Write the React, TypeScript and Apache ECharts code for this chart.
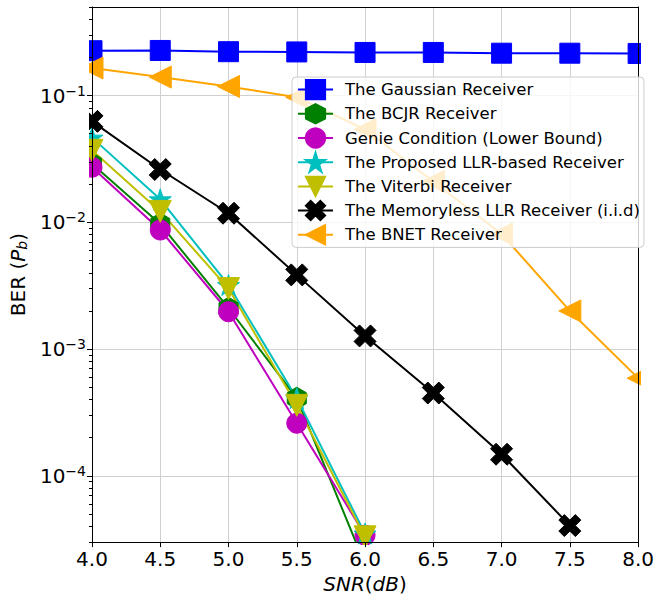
import React, { useEffect, useRef } from 'react';
import * as echarts from 'echarts';

// ---------- data ----------
const snr = [4.0, 4.5, 5.0, 5.5, 6.0, 6.5, 7.0, 7.5, 8.0];
const gaussian = [0.226, 0.227, 0.222, 0.221, 0.219, 0.219, 0.216, 0.216, 0.215];
const bcjr = [0.029, 0.0097, 0.0021, 0.00041, 0.00002];
const genie = [0.0272, 0.0087, 0.00197, 0.00026, 0.000034];
const proposed = [0.0466, 0.0152, 0.0032, 0.00041, 0.000035];
const viterbi = [0.037, 0.0122, 0.003, 0.00036, 0.000033];
const memoryless = [0.0626, 0.0261, 0.0118, 0.00385, 0.00127, 0.00045, 0.000148, 0.0000405];
const bnet = [0.165, 0.14, 0.118, 0.097, 0.054, 0.021, 0.0081, 0.002, 0.00059];

const seriesNames = [
  'The Gaussian Receiver',
  'The BCJR Receiver',
  'Genie Condition (Lower Bound)',
  'The Proposed LLR-based Receiver',
  'The Viterbi Receiver',
  'The Memoryless LLR Receiver (i.i.d)',
  'The BNET Receiver',
];

const xTicks = [4.0, 4.5, 5.0, 5.5, 6.0, 6.5, 7.0, 7.5, 8.0];
const yMajorTicks = [1e-4, 1e-3, 1e-2, 1e-1];
const yMin = 3e-5;
const yMax = 0.5;

// ---------- layout / style ----------
const W = 657;
const H = 599;
const GRID = { left: 89, right: 16, top: 7, bottom: 54 };
const FONT = 'DejaVu Sans';

const yMinorTicks: number[] = [];
for (let e = -5; e <= 0; e++) {
  for (let k = 2; k <= 9; k++) {
    const v = k * Math.pow(10, e);
    if (v >= yMin && v <= yMax) yMinorTicks.push(v);
  }
}

function starPath(): string {
  const pts: string[] = [];
  for (let i = 0; i < 10; i++) {
    const r = i % 2 === 0 ? 1 : 0.381966;
    const a = -Math.PI / 2 + (i * Math.PI) / 5;
    pts.push(`${(r * Math.cos(a)).toFixed(4)},${(r * Math.sin(a)).toFixed(4)}`);
  }
  return 'path://M' + pts.join(' L') + ' Z';
}

const SYM_HEX = 'path://M0,-1 L0.866,-0.5 L0.866,0.5 L0,1 L-0.866,0.5 L-0.866,-0.5 Z';
const SYM_X =
  'path://M-1,-2 L0,-1 L1,-2 L2,-1 L1,0 L2,1 L1,2 L0,1 L-1,2 L-2,1 L-1,0 L-2,-1 Z';
const SYM_TDOWN = 'path://M-1,-1 L1,-1 L0,1 Z';
const SYM_TLEFT = 'path://M-1,0 L1,-1 L1,1 Z';
const SYM_STAR = starPath();

const seriesStyles = [
  { color: '#0000ff', symbol: 'rect', size: 20 },
  { color: '#008000', symbol: SYM_HEX, size: 22 },
  { color: '#bf00bf', symbol: 'circle', size: 20 },
  { color: '#00bfbf', symbol: SYM_STAR, size: 22 },
  { color: '#bfbf00', symbol: SYM_TDOWN, size: 22 },
  { color: '#000000', symbol: SYM_X, size: 22 },
  { color: '#ffa500', symbol: SYM_TLEFT, size: 22 },
];

const seriesValues = [gaussian, bcjr, genie, proposed, viterbi, memoryless, bnet];

export default function App() {
  const ref = useRef<HTMLDivElement>(null);
  useEffect(() => {
    if (!ref.current) return;
    const chart = echarts.init(ref.current, null, { renderer: 'svg' });

    const series = seriesValues.map((vals, si) => {
      const st = seriesStyles[si];
      return {
        type: 'line',
        name: seriesNames[si],
        xAxisIndex: 0,
        yAxisIndex: 0,
        data: vals.map((v, i) => [snr[i], v]),
        symbol: st.symbol,
        symbolSize: st.size,
        symbolKeepAspect: true,
        showSymbol: true,
        showAllSymbol: true,
        clip: true,
        z: 2,
        lineStyle: { color: st.color, width: 2 },
        itemStyle: { color: st.color, borderColor: st.color, borderWidth: 1, opacity: 1 },
        emphasis: { disabled: true },
      };
    });

    const supRich = {
      b: { fontSize: 20, fontFamily: FONT, color: '#000' },
      s: { fontSize: 14, fontFamily: FONT, color: '#000', padding: [0, 0, 10, 0] },
    };

    const option: any = {
      animation: false,
      backgroundColor: '#ffffff',
      textStyle: { fontFamily: FONT },
      grid: { ...GRID, containLabel: false },
      legend: {
        orient: 'vertical',
        left: 292,
        top: 77,
        z: 6,
        data: seriesNames,
        itemWidth: 35,
        itemHeight: 24,
        itemGap: 3,
        padding: [2, 4, 2, 5],
        backgroundColor: 'rgba(255,255,255,0.8)',
        borderColor: '#cccccc',
        borderWidth: 1,
        borderRadius: 4,
        selectedMode: false,
        textStyle: { fontFamily: FONT, fontSize: 16.5, color: '#000', padding: [0, 0, 0, 7] },
      },
      graphic: {
        elements: [
          { type: 'rect', silent: true, z: 3, shape: { x: 0, y: 0, width: GRID.left, height: H }, style: { fill: '#fff' } },
          { type: 'rect', silent: true, z: 3, shape: { x: W - GRID.right, y: 0, width: GRID.right, height: H }, style: { fill: '#fff' } },
          { type: 'rect', silent: true, z: 3, shape: { x: 0, y: 0, width: W, height: GRID.top }, style: { fill: '#fff' } },
          { type: 'rect', silent: true, z: 3, shape: { x: 0, y: H - GRID.bottom, width: W, height: GRID.bottom }, style: { fill: '#fff' } },
        ],
      },
      xAxis: [
        {
          type: 'value', min: 4, max: 8, interval: 0.5, z: 0,
          axisLine: { show: false, onZero: false }, axisTick: { show: false }, axisLabel: { show: false },
          splitLine: { show: true, lineStyle: { color: '#d0d0d0', width: 1 } },
        },
        {
          type: 'value', min: 4, max: 8, interval: 0.5, position: 'bottom', z: 4,
          axisLine: { show: true, onZero: false, lineStyle: { color: '#000', width: 1 } },
          axisTick: { show: true, length: 5, inside: false, lineStyle: { color: '#000' } },
          axisLabel: {
            show: true, margin: 7, fontSize: 20, color: '#000', fontFamily: FONT,
            formatter: (v: number) => v.toFixed(1),
          },
          splitLine: { show: false },
          name: '{i|SNR}{r|(}{i|dB}{r|)}',
          nameLocation: 'middle',
          nameGap: 28,
          nameTextStyle: {
            fontSize: 20, color: '#000', fontFamily: FONT, verticalAlign: 'top',
            rich: {
              i: { fontSize: 20, fontStyle: 'italic', fontFamily: FONT, color: '#000' },
              r: { fontSize: 20, fontFamily: FONT, color: '#000' },
            },
          },
        },
        {
          type: 'value', min: 4, max: 8, position: 'top', z: 4,
          axisLine: { show: true, onZero: false, lineStyle: { color: '#000', width: 1 } },
          axisTick: { show: false }, axisLabel: { show: false }, splitLine: { show: false },
        },
      ],
      yAxis: [
        {
          type: 'log', logBase: 10, min: yMin, max: yMax, z: 0,
          axisLine: { show: false, onZero: false },
          axisTick: { show: false, customValues: yMajorTicks },
          axisLabel: { show: false },
          splitLine: { show: true, lineStyle: { color: '#d0d0d0', width: 1 } },
        },
        {
          type: 'log', logBase: 10, min: yMin, max: yMax, position: 'left', z: 4,
          axisLine: { show: true, onZero: false, lineStyle: { color: '#000', width: 1 } },
          axisTick: { show: true, length: 5, customValues: yMajorTicks, lineStyle: { color: '#000' } },
          axisLabel: {
            show: true, margin: 6, customValues: yMajorTicks,
            formatter: (v: number) => {
              const n = Math.round(Math.log10(v));
              return `{b|10}{s|\u2212${-n}}`;
            },
            rich: supRich,
          },
          splitLine: { show: false },
          name: '{r|BER (}{i|P}{sub|b}{r|)}',
          nameLocation: 'middle',
          nameGap: 58,
          nameTextStyle: {
            fontSize: 20, color: '#000', fontFamily: FONT,
            rich: {
              r: { fontSize: 20, fontFamily: FONT, color: '#000' },
              i: { fontSize: 20, fontStyle: 'italic', fontFamily: FONT, color: '#000' },
              sub: { fontSize: 14, fontStyle: 'italic', fontFamily: FONT, color: '#000', padding: [8, 0, 0, 0] },
            },
          },
        },
        {
          type: 'log', logBase: 10, min: yMin, max: yMax, position: 'right', z: 4,
          axisLine: { show: true, onZero: false, lineStyle: { color: '#000', width: 1 } },
          axisTick: { show: false }, axisLabel: { show: false }, splitLine: { show: false },
        },
        {
          type: 'log', logBase: 10, min: yMin, max: yMax, position: 'left', z: 4,
          axisLine: { show: false, onZero: false },
          axisTick: { show: true, length: 3, customValues: yMinorTicks, lineStyle: { color: '#000' } },
          axisLabel: { show: false }, splitLine: { show: false },
        },
      ],
      series,
    };

    chart.setOption(option);
    return () => chart.dispose();
  }, []);

  return (
    <div
      ref={ref}
      style={{ position: 'fixed', left: 0, top: 0, width: W, height: H, background: '#fff' }}
    />
  );
}
